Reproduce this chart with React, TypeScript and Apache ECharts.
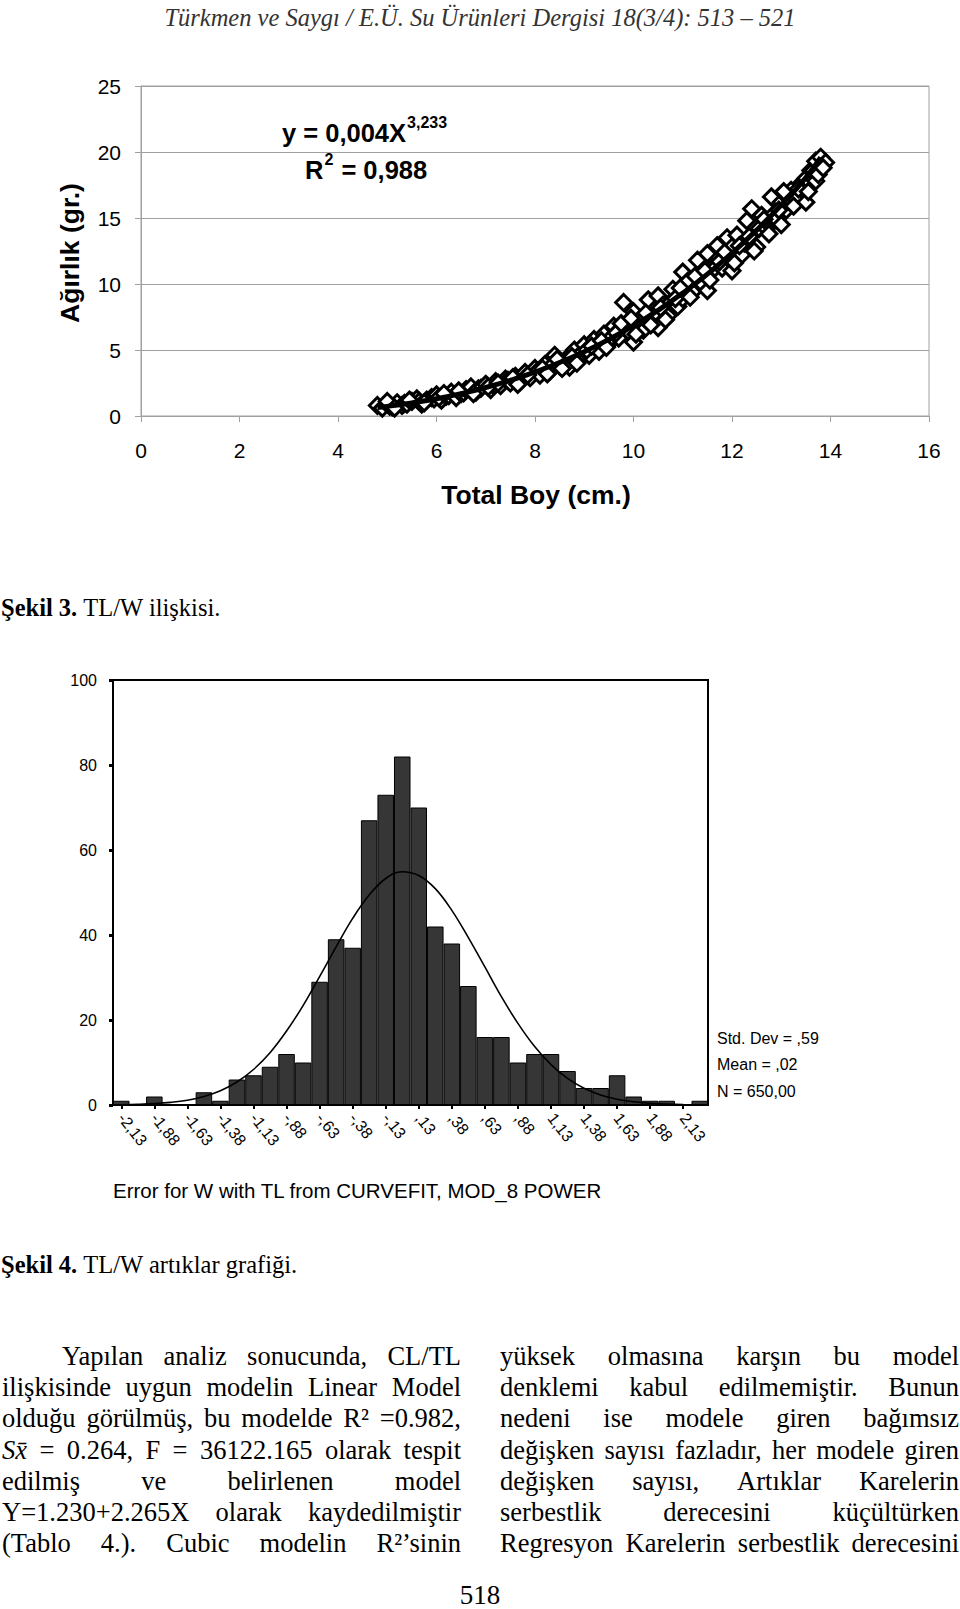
import React, { useEffect, useRef } from "react";
import * as echarts from "echarts";

// ---------- data ----------
const headerText = "Türkmen ve Saygı / E.Ü. Su Ürünleri Dergisi 18(3/4): 513 – 521";

// Şekil 3 — total length (cm) vs weight (g)
const totalLength = [
  4.8, 4.9, 5.0, 5.05, 5.1, 5.2, 5.3, 5.35, 5.4, 5.5, 5.6, 5.65, 5.7, 5.8, 5.9, 5.95,
  6.0, 6.1, 6.2, 6.25, 6.3, 6.4, 6.5, 6.55, 6.6, 6.7, 6.8, 6.85, 6.9, 7.0, 7.1, 7.15,
  7.2, 7.3, 7.4, 7.45, 7.5, 7.6, 7.7, 7.75, 7.8, 7.9, 8.0, 8.05, 8.1, 8.2, 8.3, 8.35,
  8.4, 8.5, 8.6, 8.65, 8.7, 8.8, 8.9, 8.95, 9.0, 9.1, 9.2, 9.25, 9.3, 9.4, 9.5, 9.55,
  9.6, 9.7, 9.8, 9.85, 9.9, 10.0, 10.0, 10.1, 10.15, 10.2, 10.3, 10.4, 10.45, 10.5, 10.5,
  10.6, 10.7, 10.75, 10.8, 10.9, 11.0, 11.0, 11.05, 11.1, 11.2, 11.3, 11.35, 11.4, 11.5,
  11.5, 11.6, 11.65, 11.7, 11.8, 11.9, 11.95, 12.0, 12.0, 12.1, 12.2, 12.25, 12.3, 12.4,
  12.4, 12.5, 12.55, 12.6, 12.7, 12.8, 12.85, 12.9, 13.0, 13.0, 13.1, 13.15, 13.2, 13.3,
  13.4, 13.45, 13.5, 13.5, 13.6, 13.65, 13.7, 13.7, 13.8, 13.9,
  5.0, 5.15, 5.45, 5.75, 6.05, 6.15, 6.45, 6.75, 7.05, 7.25, 7.55, 7.65, 7.85, 8.15, 8.25,
  8.45, 8.55, 8.75, 8.85, 9.05, 9.15, 9.35, 9.45, 9.65, 9.75, 9.95, 10.05, 10.25, 10.35,
  10.55, 10.65, 10.85, 10.95, 11.15, 11.25, 11.45, 11.55, 11.75, 11.85, 12.05, 12.15,
  12.35, 12.45, 12.65, 12.75, 12.95, 13.05, 13.25, 13.35, 13.55, 13.75, 13.85,
];
const weight = [
  0.8, 0.6, 0.9, 0.75, 0.7, 1.0, 0.8, 0.95, 0.9, 1.1, 1.3, 1.1, 0.9, 1.2, 1.4, 1.3,
  1.6, 1.2, 1.5, 1.55, 1.8, 1.4, 1.7, 1.75, 2.0, 2.2, 1.8, 2.05, 2.1, 2.4, 2.0, 2.35,
  2.6, 2.3, 2.8, 2.7, 2.5, 3.0, 2.6, 3.05, 3.3, 2.9, 3.6, 3.4, 3.1, 3.9, 3.4, 3.85,
  4.6, 3.8, 4.2, 4.35, 3.7, 5.0, 4.3, 4.8, 5.4, 4.6, 5.8, 5.35, 4.9, 6.2, 5.5, 5.95,
  6.8, 5.9, 8.6, 6.6, 6.4, 7.9, 5.6, 7.2, 7.2, 6.5, 8.8, 7.3, 7.85, 9.1, 6.7,
  8.4, 7.6, 8.6, 9.6, 8.3, 10.9, 8.9, 9.45, 10.2, 9.4, 11.8, 10.3, 10.0, 12.3,
  9.5, 11.3, 11.2, 12.9, 11.2, 13.5, 12.1, 11.0, 12.8, 13.7, 12.2, 13.1, 14.8, 15.7,
  13.1, 12.8, 14.2, 15.2, 14.2, 16.6, 15.3, 14.9, 16.2, 14.5, 15.6, 16.5, 17.1, 16.4,
  17.6, 17.7, 16.2, 18.0, 18.6, 18.6, 17.8, 19.3, 19.6, 19.2,
  1.1, 0.6, 1.2, 1.0, 1.4, 1.7, 1.9, 1.7, 2.2, 2.5, 2.9, 2.4, 3.1, 3.6, 3.2,
  4.3, 3.6, 4.5, 4.0, 5.0, 5.3, 5.7, 5.2, 6.3, 7.0, 7.4, 6.2, 7.8, 6.9,
  8.2, 7.3, 8.9, 9.7, 9.0, 10.6, 11.0, 10.3, 11.7, 12.4, 11.6, 12.9,
  13.6, 12.5, 14.9, 13.8, 15.6, 17.0, 15.9, 17.2, 17.0, 18.3, 18.8,
];
const trendLength = [4.8, 5, 5.5, 6, 6.5, 7, 7.5, 8, 8.5, 9, 9.5, 10, 10.5, 11, 11.5, 12, 12.5, 13, 13.5, 13.8];
const trendWeight = [0.64, 0.73, 0.99, 1.31, 1.7, 2.16, 2.7, 3.33, 4.05, 4.87, 5.8, 6.84, 8.01, 9.31, 10.75, 12.34, 14.08, 15.98, 18.06, 19.6];

// Şekil 4 — residual histogram
const binLabels = [
  "-2,13", "-2,00", "-1,88", "-1,75", "-1,63", "-1,50", "-1,38", "-1,25", "-1,13", "-1,00",
  "-,88", "-,75", "-,63", "-,50", "-,38", "-,25", "-,13", "0,00", ",13", ",25", ",38", ",50",
  ",63", ",75", ",88", "1,00", "1,13", "1,25", "1,38", "1,50", "1,63", "1,75", "1,88", "2,00",
  "2,13", "2,25",
];
const binCounts = [
  1, 0, 2, 0, 0, 3, 1, 6, 7, 9, 12, 10, 29, 39, 37, 67, 73, 82, 70, 42, 38, 28, 16, 16,
  10, 12, 12, 8, 4, 4, 7, 2, 1, 1, 0, 1,
];
const normalCurve = [
  0.07, 0.16, 0.32, 0.61, 1.12, 1.99, 3.35, 5.41, 8.35, 12.3, 17.4, 23.4, 30.2, 37.2, 43.9,
  49.4, 53.3, 54.9, 54.0, 50.9, 45.8, 39.4, 32.5, 25.5, 19.2, 13.8, 9.5, 6.25, 3.93, 2.37,
  1.36, 0.75, 0.39, 0.2, 0.09, 0.04,
];
const statLines = ["Std. Dev = ,59", "Mean = ,02", "N = 650,00"];

const leftLines = [
  "Yapılan analiz sonucunda, CL/TL",
  "ilişkisinde uygun modelin Linear Model",
  "olduğu görülmüş, bu modelde R² =0.982,",
  "Sx̄ = 0.264, F = 36122.165 olarak tespit",
  "edilmiş ve belirlenen model",
  "Y=1.230+2.265X olarak kaydedilmiştir",
  "(Tablo 4.). Cubic modelin R²’sinin",
];
const rightLines = [
  "yüksek olmasına karşın bu model",
  "denklemi kabul edilmemiştir. Bunun",
  "nedeni ise modele giren bağımsız",
  "değişken sayısı fazladır, her modele giren",
  "değişken sayısı, Artıklar Karelerin",
  "serbestlik derecesini küçültürken",
  "Regresyon Karelerin serbestlik derecesini",
];

// ---------- helpers ----------
const SERIF = '"Liberation Serif", "Times New Roman", serif';
const SANS = '"Liberation Sans", Arial, sans-serif';

const measureCtx = document.createElement("canvas").getContext("2d")!;
function measure(text: string, font: string): number {
  measureCtx.font = font;
  return measureCtx.measureText(text).width;
}

function justifiedLine(text: string, x0: number, x1: number, y: number, size: number): any[] {
  const words = text.split(" ");
  const fonts = words.map((w) => (w.startsWith("Sx") ? `italic ${size}px ${SERIF}` : `${size}px ${SERIF}`));
  const widths = words.map((w, i) => measure(w, fonts[i]));
  const total = widths.reduce((a, b) => a + b, 0);
  const avail = x1 - x0;
  const minGap = size * 0.18;
  let gap = words.length > 1 ? (avail - total) / (words.length - 1) : 0;
  let sx = 1;
  if (words.length > 1 && gap < minGap) {
    gap = minGap;
    sx = (avail - minGap * (words.length - 1)) / total;
  }
  let x = x0;
  return words.map((w, i) => {
    const el = {
      type: "text",
      x,
      y,
      scaleX: sx,
      style: {
        text: w,
        font: fonts[i],
        fill: "#000",
        textAlign: "left",
        align: "left",
        textVerticalAlign: "middle",
        verticalAlign: "middle",
      },
    };
    x += widths[i] * sx + gap;
    return el;
  });
}

function txt(text: string, x: number, y: number, font: string, align = "left", extra: any = {}) {
  const { style: extraStyle, ...rest } = extra;
  return {
    type: "text",
    x,
    y,
    ...rest,
    style: {
      text,
      font,
      fill: "#000",
      textAlign: align,
      align,
      textVerticalAlign: "middle",
      verticalAlign: "middle",
      ...(extraStyle || {}),
    },
  };
}

function captionEls(bold: string, rest: string, y: number, size: number): any[] {
  const bf = `bold ${size}px ${SERIF}`;
  const nf = `${size}px ${SERIF}`;
  const bw = measure(bold + " ", bf);
  return [txt(bold, 1, y, bf), txt(rest, 1 + bw, y, nf)];
}

function supEls(base: string, sup: string, after: string, x: number, y: number, size: number, supSize: number): any[] {
  const f = `bold ${size}px ${SANS}`;
  const sf = `bold ${supSize}px ${SANS}`;
  const w1 = measure(base, f);
  const w2 = measure(sup, sf);
  const els = [txt(base, x, y, f), txt(sup, x + w1 + 1, y - size * 0.42, sf)];
  if (after) els.push(txt(after, x + w1 + w2 + 2, y, f));
  return els;
}

export default function App() {
  const ref = useRef<HTMLDivElement>(null);

  useEffect(() => {
    if (!ref.current) return;
    const chart = echarts.init(ref.current, undefined, { renderer: "svg", width: 960, height: 1609 });

    const points = totalLength.map((x, i) => [x, weight[i]]);
    const trend = trendLength.map((x, i) => [x, trendWeight[i]]);

    const paragraphY = [1356, 1387, 1418, 1450, 1481, 1512, 1543];
    const paraEls: any[] = [];
    leftLines.forEach((l, i) => {
      paraEls.push(...justifiedLine(l, i === 0 ? 62 : 2, 461, paragraphY[i], 26.5));
    });
    rightLines.forEach((l, i) => {
      paraEls.push(...justifiedLine(l, 500, 959, paragraphY[i], 26.5));
    });

    const option: any = {
      animation: false,
      backgroundColor: "#fff",
      grid: [
        { left: 141, top: 86, width: 788, height: 330, show: true, borderColor: "#a0a0a0", borderWidth: 1, backgroundColor: "#fff" },
        { left: 113, top: 680, width: 595, height: 425, show: true, borderColor: "#000", borderWidth: 2, backgroundColor: "#fff" },
      ],
      xAxis: [
        {
          gridIndex: 0,
          type: "value",
          min: 0,
          max: 16,
          interval: 2,
          axisLine: { show: true, lineStyle: { color: "#a0a0a0", width: 1 } },
          axisTick: { show: true, length: 6, lineStyle: { color: "#a0a0a0" } },
          axisLabel: { color: "#000", fontSize: 21, fontFamily: SANS, margin: 24 },
          splitLine: { show: false },
        },
        {
          gridIndex: 1,
          type: "category",
          data: binLabels,
          boundaryGap: true,
          axisLine: { show: true, lineStyle: { color: "#000", width: 2 } },
          axisTick: { show: true, alignWithLabel: true, interval: 1, length: 4, lineStyle: { color: "#000", width: 2 } },
          axisLabel: { interval: 1, rotate: -52, color: "#000", fontSize: 16, fontFamily: SANS, margin: 10 },
          splitLine: { show: false },
        },
      ],
      yAxis: [
        {
          gridIndex: 0,
          type: "value",
          min: 0,
          max: 25,
          interval: 5,
          axisLine: { show: true, lineStyle: { color: "#a0a0a0", width: 1 } },
          axisTick: { show: true, length: 6, lineStyle: { color: "#a0a0a0" } },
          axisLabel: { color: "#000", fontSize: 21, fontFamily: SANS, margin: 20 },
          splitLine: { show: true, lineStyle: { color: "#a0a0a0", width: 1 } },
        },
        {
          gridIndex: 1,
          type: "value",
          min: 0,
          max: 100,
          interval: 20,
          axisLine: { show: true, lineStyle: { color: "#000", width: 2 } },
          axisTick: { show: true, length: 4, lineStyle: { color: "#000", width: 3 } },
          axisLabel: { color: "#000", fontSize: 16, fontFamily: SANS, margin: 16 },
          splitLine: { show: false },
        },
      ],
      series: [
        {
          type: "scatter",
          xAxisIndex: 0,
          yAxisIndex: 0,
          data: points,
          symbol: "diamond",
          symbolSize: 16,
          itemStyle: { color: "#fff", borderColor: "#000", borderWidth: 3, opacity: 1 },
          z: 2,
        },
        {
          type: "line",
          xAxisIndex: 0,
          yAxisIndex: 0,
          data: trend,
          smooth: true,
          showSymbol: false,
          lineStyle: { color: "#000", width: 5 },
          z: 3,
        },
        {
          type: "bar",
          xAxisIndex: 1,
          yAxisIndex: 1,
          data: binCounts,
          barWidth: "100%",
          itemStyle: { color: "#363636", borderColor: "#000", borderWidth: 1 },
          z: 2,
        },
        {
          type: "line",
          xAxisIndex: 1,
          yAxisIndex: 1,
          data: normalCurve,
          smooth: 0.4,
          showSymbol: false,
          lineStyle: { color: "#000", width: 1.6 },
          z: 3,
        },
      ],
      graphic: [
        txt(headerText, 480, 17, `italic 24.5px ${SERIF}`, "center", { style: { fill: "#333" } }),
        ...supEls("y = 0,004X", "3,233", "", 282, 133, 25.5, 16),
        ...supEls("R", "2", " = 0,988", 305, 170, 25.5, 16),
        txt("Total Boy (cm.)", 536, 495, `bold 26.5px ${SANS}`, "center"),
        txt("Ağırlık (gr.)", 70, 253, `bold 26.5px ${SANS}`, "center", { rotation: Math.PI / 2 }),
        ...captionEls("Şekil 3.", "TL/W ilişkisi.", 607, 24.5),
        ...statLines.map((s, i) => txt(s, 717, 1038 + i * 26.5, `16px ${SANS}`)),
        txt("Error for W with TL from CURVEFIT, MOD_8 POWER", 113, 1190, `20.5px ${SANS}`),
        ...captionEls("Şekil 4.", "TL/W artıklar grafiği.", 1264, 24.5),
        ...paraEls,
        txt("518", 480, 1595, `27px ${SERIF}`, "center"),
      ],
    };

    chart.setOption(option);
    return () => chart.dispose();
  }, []);

  return (
    <div style={{ position: "absolute", left: 0, top: 0, width: 960, height: 1609, background: "#fff" }}>
      <div ref={ref} style={{ width: 960, height: 1609 }} />
    </div>
  );
}
